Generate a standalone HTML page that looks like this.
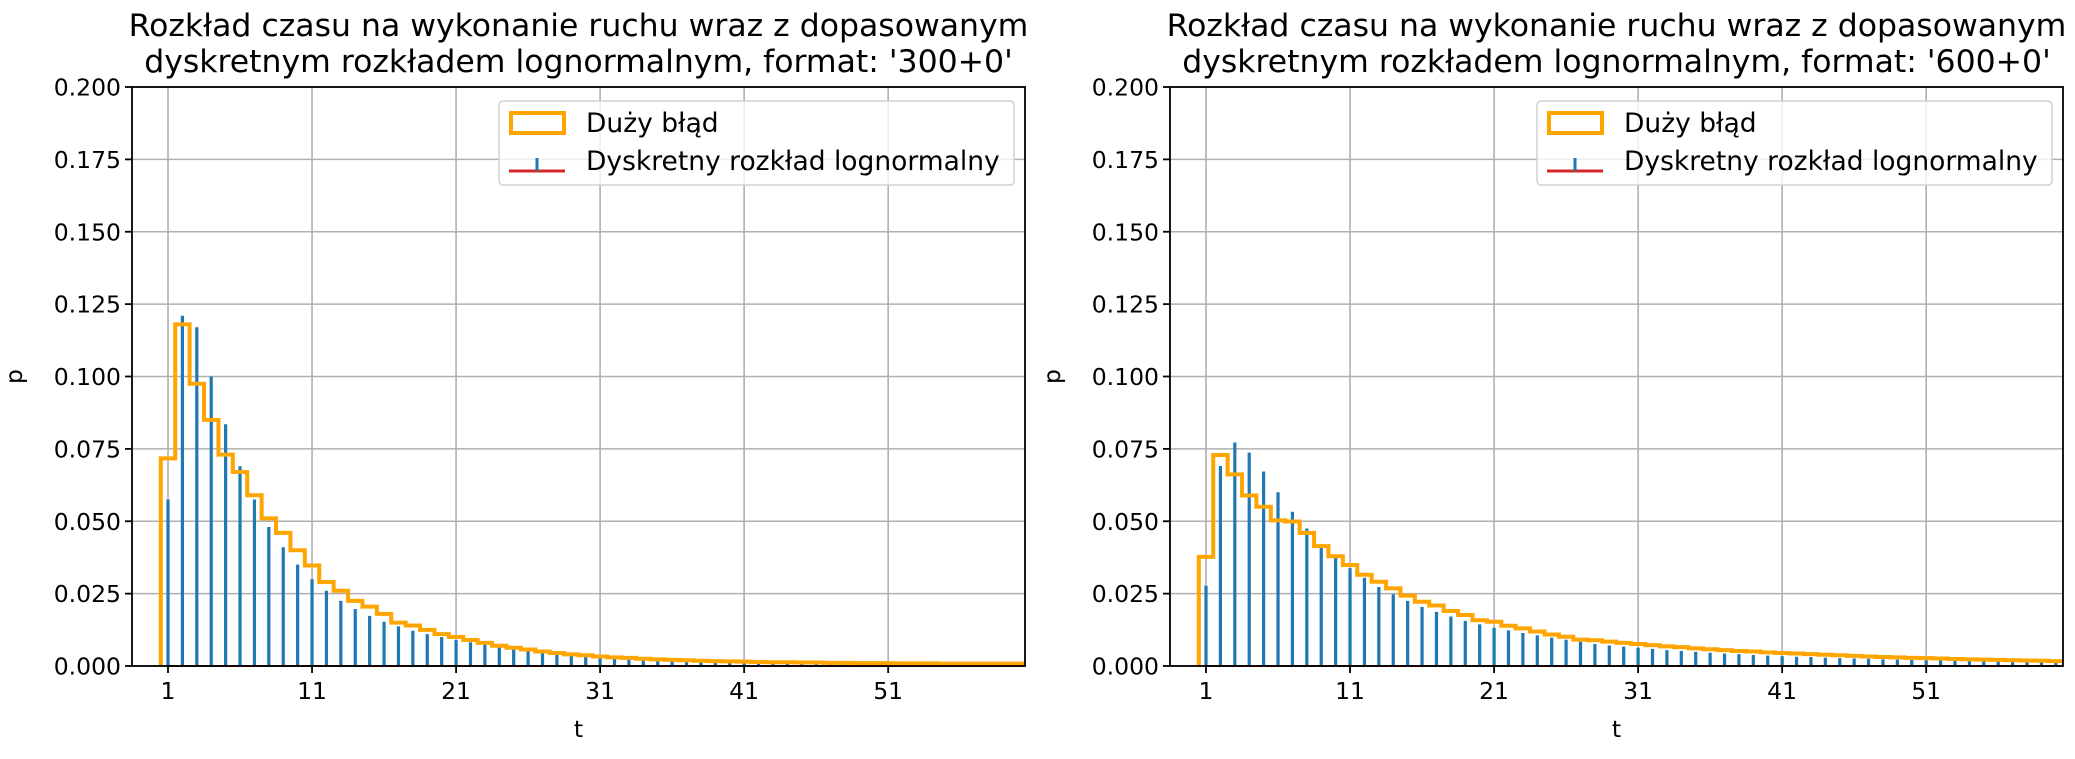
<!DOCTYPE html>
<html><head><meta charset="utf-8">
<style>
html,body{margin:0;padding:0;background:#fff;}
svg{display:block;font-family:"DejaVu Sans","Liberation Sans",sans-serif;}
</style></head>
<body>
<svg id="chart" width="2075" height="759" viewBox="0 0 2075 759" xmlns="http://www.w3.org/2000/svg"></svg>
<script>
const titles1 = ["Rozkład czasu na wykonanie ruchu wraz z dopasowanym", "dyskretnym rozkładem lognormalnym, format: '300+0'"];
const titles2 = ["Rozkład czasu na wykonanie ruchu wraz z dopasowanym", "dyskretnym rozkładem lognormalnym, format: '600+0'"];
const yTicks = [0, 0.025, 0.05, 0.075, 0.1, 0.125, 0.15, 0.175, 0.2];
const yTickLabels = ["0.000","0.025","0.050","0.075","0.100","0.125","0.150","0.175","0.200"];
const xTicks = [1, 11, 21, 31, 41, 51];
const legendLabels = ["Duży błąd", "Dyskretny rozkład lognormalny"];
const histLeft = [0.0717,0.118,0.0975,0.085,0.073,0.067,0.059,0.051,0.046,0.040,
 0.0347,0.029,0.026,0.0225,0.0205,0.018,0.015,0.014,0.0125,0.011,
 0.010,0.009,0.008,0.007,0.0063,0.0057,0.005,0.0045,0.004,0.0037,
 0.0033,0.003,0.0028,0.0025,0.0023,0.0021,0.002,0.0018,0.0017,0.0016,
 0.0015,0.0014,0.0013,0.0013,0.0012,0.0012,0.0011,0.0011,0.0010,0.0010,
 0.0010,0.0009,0.0009,0.0009,0.0008,0.0008,0.0008,0.0008,0.0008,0.0008];
const stemLeft = [0.0575,0.121,0.117,0.100,0.0835,0.069,0.0575,0.048,0.041,0.035,
 0.030,0.026,0.0225,0.0197,0.0173,0.0153,0.0137,0.0122,0.011,0.010,
 0.009,0.0082,0.0074,0.0067,0.0061,0.0056,0.0051,0.0046,0.0042,0.0039,
 0.0036,0.0033,0.003,0.0028,0.0026,0.0024,0.0022,0.0021,0.0019,0.0018,
 0.0017,0.0016,0.0015,0.0014,0.0013,0.0012,0.0012,0.0011,0.0010,0.0010,
 0.0009,0.0009,0.0008,0.0008,0.0008,0.0007,0.0007,0.0007,0.0006,0.0006];
const histRight = [0.0377,0.0729,0.0662,0.0589,0.055,0.0503,0.0499,0.046,0.0414,0.0379,
 0.0349,0.0315,0.0291,0.0268,0.0243,0.0222,0.0209,0.019,0.0176,0.0158,
 0.0153,0.0139,0.013,0.0119,0.0109,0.0101,0.0091,0.0089,0.0084,0.0080,
 0.0076,0.0072,0.0068,0.0065,0.0061,0.0058,0.0055,0.0052,0.0050,0.0047,
 0.0045,0.0043,0.0041,0.0039,0.0037,0.0035,0.0033,0.0031,0.0030,0.0028,
 0.0027,0.0026,0.0024,0.0023,0.0022,0.0021,0.0020,0.0019,0.0018,0.0017];
const stemRight = [0.0277,0.0691,0.0772,0.0737,0.0672,0.060,0.0533,0.0475,0.042,0.0377,
 0.0338,0.0305,0.0273,0.0248,0.0225,0.0204,0.0187,0.0171,0.0156,0.0144,
 0.0132,0.0123,0.0114,0.0106,0.0098,0.0091,0.0084,0.0076,0.0071,0.0067,
 0.0063,0.0059,0.0055,0.0052,0.0049,0.0046,0.0043,0.0041,0.0038,0.0036,
 0.0034,0.0032,0.0031,0.0029,0.0027,0.0026,0.0025,0.0023,0.0022,0.0021,
 0.0020,0.0019,0.0018,0.0017,0.0016,0.0016,0.0015,0.0014,0.0014,0.0013];

const NS = "http://www.w3.org/2000/svg";
const svg = document.getElementById('chart');
function mk(tag, attrs, parent, text) {
  const e = document.createElementNS(NS, tag);
  for (const k in attrs) e.setAttribute(k, attrs[k]);
  if (text !== undefined) e.textContent = text;
  (parent || svg).appendChild(e);
  return e;
}

function drawPanel(ox, titles, hist, stems, id) {
  const L = ox, R = ox + 893, T = 87, B = 666;
  const xMin = -1.5, xMax = 60.5, yMax = 0.2;
  const sx = v => L + (v - xMin) / (xMax - xMin) * (R - L);
  const sy = v => B - v / yMax * (B - T);
  const g = mk('g', {});
  
  

  yTicks.forEach(v => {
    const l = mk('line', {x1: L, x2: R, y1: sy(v), y2: sy(v), stroke: '#b0b0b0', 'stroke-width': 1.6}, g);
    
    
  });
  xTicks.forEach(v => {
    const l = mk('line', {x1: sx(v), x2: sx(v), y1: T, y2: B, stroke: '#b0b0b0', 'stroke-width': 1.6}, g);
    
    
  });

  stems.forEach((v, i) => {
    const t = i + 1;
    const s = mk('line', {x1: sx(t), x2: sx(t), y1: sy(0), y2: sy(v), stroke: '#1f77b4', 'stroke-width': 3.2}, g);
    
    
  });
  const base = mk('line', {x1: sx(1), x2: R, y1: sy(0), y2: sy(0), stroke: '#d62728', 'stroke-width': 2}, g);
  
  

  let d = 'M' + sx(0.5) + ',' + sy(0);
  hist.forEach((v, i) => {
    d += ' L' + sx(i + 0.5) + ',' + sy(v) + ' L' + sx(i + 1.5) + ',' + sy(v);
  });
  const clip = mk('clipPath', {id: 'clip-' + id}, g);
  mk('rect', {x: L, y: T, width: R - L, height: B - T}, clip);
  const step = mk('path', {d: d, fill: 'none', stroke: '#ffa500', 'stroke-width': 4, 'stroke-linejoin': 'miter', 'clip-path': 'url(#clip-' + id + ')'}, g);
  
  

  const frame = mk('rect', {x: L, y: T, width: R - L, height: B - T, fill: 'none', stroke: '#000', 'stroke-width': 1.8}, g);
  
  

  yTicks.forEach((v, i) => {
    mk('line', {x1: L - 7, x2: L, y1: sy(v), y2: sy(v), stroke: '#000', 'stroke-width': 1.8}, g);
    const tx = mk('text', {x: L - 11, y: sy(v) + 8.5, 'text-anchor': 'end', 'font-size': 23.5, fill: '#000'}, g, yTickLabels[i]);
    
    
  });
  xTicks.forEach(v => {
    mk('line', {x1: sx(v), x2: sx(v), y1: B, y2: B + 7, stroke: '#000', 'stroke-width': 1.8}, g);
    const tx = mk('text', {x: sx(v), y: B + 33, 'text-anchor': 'middle', 'font-size': 23.5, fill: '#000'}, g, String(v));
    
    
  });

  const cx = (L + R) / 2;
  const xl = mk('text', {x: cx, y: 737, 'text-anchor': 'middle', 'font-size': 23.5}, g, 't');
  
  
  const yl = mk('text', {x: 0, y: 0, 'text-anchor': 'middle', 'font-size': 23.5, transform: 'translate(' + (L - 110) + ',' + ((T + B) / 2) + ') rotate(-90)'}, g, 'p');
  
  

  titles.forEach((s, i) => {
    const tt = mk('text', {x: cx, y: 36 + i * 36, 'text-anchor': 'middle', 'font-size': 31.5}, g, s);
    
    
  });

  const lx = L + 367, ly = 101;
  const lg = mk('g', {}, g);
  
  
  mk('rect', {x: lx, y: ly, width: 515, height: 84, rx: 4, fill: '#fff', 'fill-opacity': 0.8, stroke: '#d0d0d0', 'stroke-width': 1.5}, lg);
  const p1 = mk('rect', {x: lx + 12, y: ly + 12, width: 53, height: 20, fill: 'none', stroke: '#ffa500', 'stroke-width': 4}, lg);
  
  
  const t1 = mk('text', {x: lx + 87, y: ly + 31, 'font-size': 26.5}, lg, legendLabels[0]);
  
  
  mk('line', {x1: lx + 10, x2: lx + 66, y1: ly + 70, y2: ly + 70, stroke: '#d62728', 'stroke-width': 3}, lg);
  const p2 = mk('line', {x1: lx + 38, x2: lx + 38, y1: ly + 57, y2: ly + 70, stroke: '#1f77b4', 'stroke-width': 3}, lg);
  
  
  const t2 = mk('text', {x: lx + 87, y: ly + 69, 'font-size': 26.5}, lg, legendLabels[1]);
  
  
}

drawPanel(132, titles1, histLeft, stemLeft, 'left-300');
drawPanel(1170, titles2, histRight, stemRight, 'right-600');
</script>
</body></html>
